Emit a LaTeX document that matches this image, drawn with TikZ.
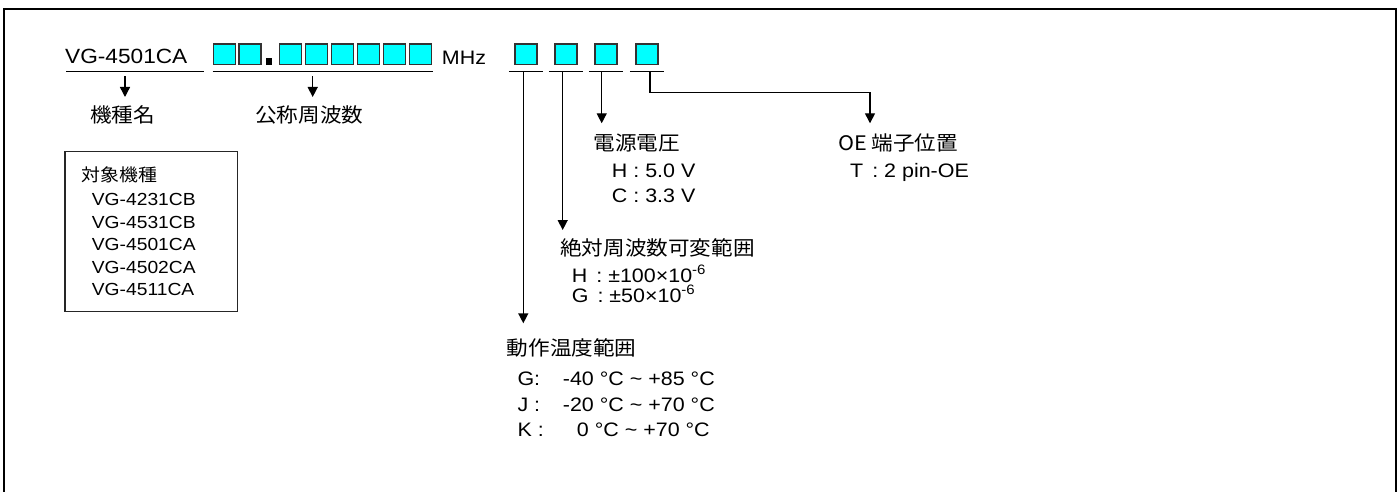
\documentclass[tikz,border=0pt]{standalone}
\usepackage{fontspec}
\setmainfont{Liberation Sans}[FakeStretch=1.1]
\newfontfamily\cjk{Noto Sans CJK JP}[FakeStretch=1.08]
\usetikzlibrary{arrows.meta}
\definecolor{boxcyan}{RGB}{0,255,255}

\begin{document}
\begin{tikzpicture}[x=1pt,y=-1pt]%
  \tikzstyle{frame}=[line width=2pt]
  \tikzstyle{cbox}=[rectangle,draw=black!80,fill=boxcyan,line width=1.4pt,minimum width=22pt,minimum height=20.3pt,inner sep=0]
  \tikzstyle{uline}=[line width=1.5pt]
  \tikzstyle{arr}=[line width=1.4pt,-{Triangle[length=10pt,width=10pt]}]
  \tikzstyle{lat}=[font=\fontsize{19.5}{22}\selectfont,inner sep=0,anchor=base west]
  \tikzstyle{latsm}=[font=\fontsize{17.5}{20}\selectfont,inner sep=0,anchor=base west]
  \tikzstyle{jp}=[font=\cjk\fontsize{20}{22}\selectfont,inner sep=0,anchor=west]
  \useasboundingbox (0,0) rectangle (1399,492);
  % outer frame
  \coordinate (fbl) at (4,494);
  \coordinate (ftr) at (1396,9);
  \draw[frame] (fbl) |- (ftr) -- (ftr |- fbl);
  % model and frequency
  \node[lat,font=\fontsize{20.6}{22}\selectfont] (model) at (65,64) {VG-4501CA};
  \foreach \i/\xx in {1/224.3,2/250,3/290.3,4/316.3,5/342.3,6/368.3,7/394.3,8/420.3}
    \node[cbox] (f\i) at (\xx,54.2) {};
  \node[fill=black,inner sep=0,minimum size=6.5pt] (fdot) at (268.8,61.6) {};
  \node[lat] (mhz) at (441.7,65) {MHz};
  \coordinate (mu1) at (66,71.7);
  \coordinate (mu2) at (204,71.7);
  \coordinate (fu1) at (212.7,71.7);
  \coordinate (fu2) at (433.3,71.7);
  \draw[uline] (mu1) -- (mu2);
  \draw[uline] (fu1) -- (fu2);
  \node[jp] (kishu) at (90,115) {機種名};
  \node[jp] (freqname) at (255,115) {公称周波数};
  \coordinate (ma) at (125,76.5);
  \coordinate (fa) at (312.7,76.5);
  \draw[arr] (ma) -- (ma |- 0,97);
  \draw[arr] (fa) -- (fa |- 0,97);
  % option boxes
  \foreach \i/\xx in {1/525.8,2/565.8,3/605.8,4/646.8}{
    \node[cbox] (s\i) at (\xx,54.2) {};
    \draw[uline] ([xshift=-5.3pt,yshift=-6.6pt]s\i.south west) -- ([xshift=5.3pt,yshift=-6.6pt]s\i.south east);
  }
  \coordinate (ua) at (523.3,71.7);
  \coordinate (ub) at (562.7,71.7);
  \coordinate (uc) at (601.7,71.7);
  \coordinate (ud) at (650,71.7);
  \coordinate (dk) at (650,92.7);
  \coordinate (ta) at (523.3,323.3);
  \coordinate (tb) at (562.7,230);
  \coordinate (tc) at (601.7,123.3);
  \coordinate (td) at (870,123.3);
  \draw[arr] (ua) -- (ta);
  \draw[arr] (ub) -- (tb);
  \draw[arr] (uc) -- (tc);
  \draw[arr] (ud) -- (dk) -| (td);
  % supply voltage
  \node[jp] (volt) at (593.3,143.3) {電源電圧};
  \node[lat] (vh) at (611.7,177) {H : 5.0 V};
  \node[lat] (vc) at (611.7,202) {C : 3.3 V};
  % OE pin
  \node[jp] (oepos) at (838,143.3) {OE 端子位置};
  \node[lat] (oet) at (850,177) {T\hspace{3pt} : 2 pin-OE};
  % absolute pull range
  \node[jp] (absrange) at (560,248.3) {絶対周波数可変範囲};
  \node[lat] (ah) at (571.7,282) {H\hspace{3pt} : ±100×10\textsuperscript{-6}};
  \node[lat] (ag) at (571.7,302.5) {G\hspace{3pt} : ±50×10\textsuperscript{-6}};
  % operating temperature
  \node[jp] (optemp) at (506.7,348.3) {動作温度範囲};
  \foreach \n/\k/\v/\xx/\yy in {g/G:/-40 °C \textasciitilde{} +85 °C/562.7/385,
                                j/J :/-20 °C \textasciitilde{} +70 °C/562.7/411.7,
                                k/K :/0 °C \textasciitilde{} +70 °C/576.7/436.7}{
    \node[lat] (tk\n) at (517.3,\yy) {\k};
    \node[lat] (tv\n) at (\xx,\yy) {\v};
  }
  % target models
  \node[draw=black!85,line width=1.5pt,minimum width=172.7pt,minimum height=160pt,anchor=north west,inner sep=0,outer sep=0] (tgtbox) at (65,151.7) {};
  \node[jp,font=\cjk\fontsize{17.5}{20}\selectfont] (tgthead) at (81.7,175) {対象機種};
  \foreach \m [count=\n] in {VG-4231CB,VG-4531CB,VG-4501CA,VG-4502CA,VG-4511CA}
    \node[latsm] (tgt\n) at (91.7,{205.6+22.5*(\n-1)}) {\m};
\end{tikzpicture}
\end{document}
